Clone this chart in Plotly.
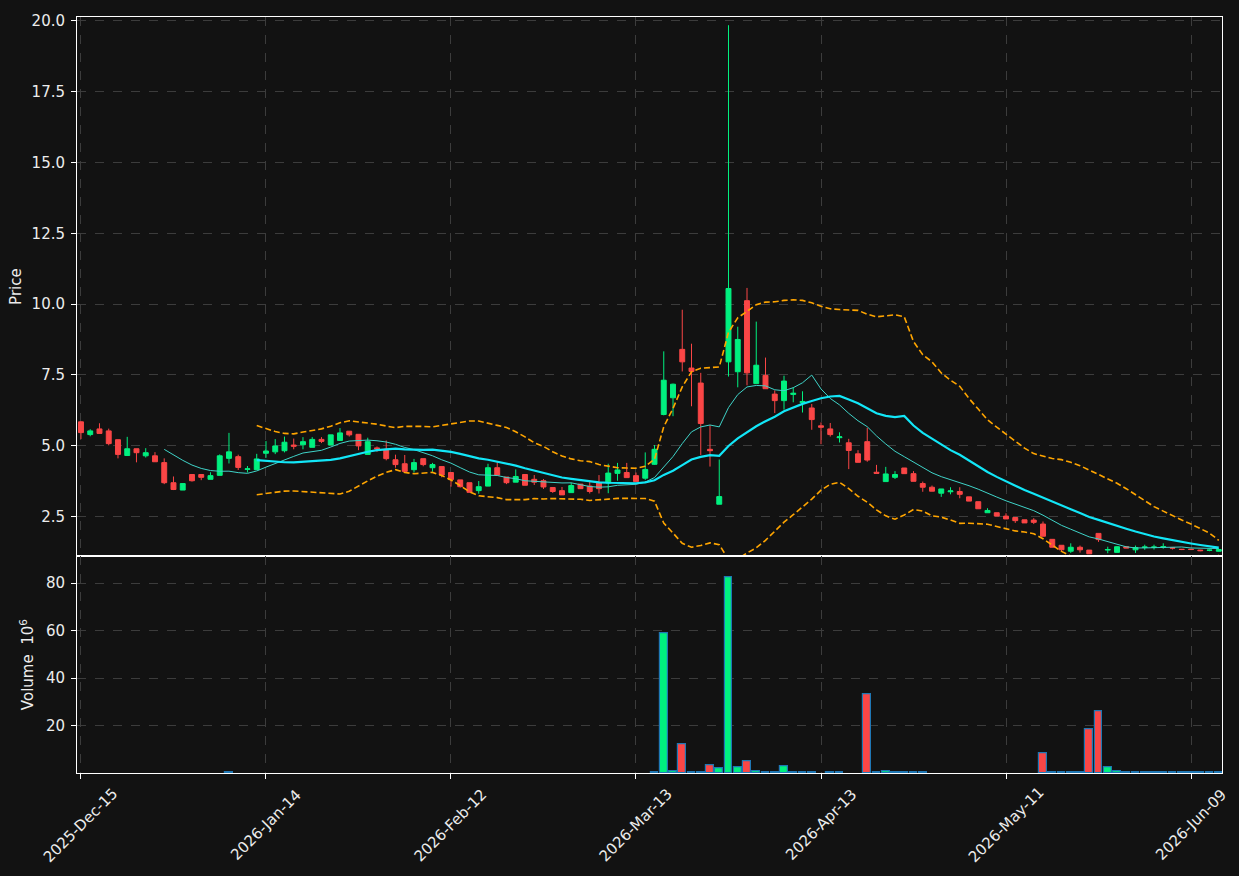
import pandas as pd
import plotly.graph_objects as go
from plotly.subplots import make_subplots

# ---------------- data ----------------
holidays = ["2025-12-25", "2026-01-01", "2026-01-19", "2026-02-16", "2026-04-03", "2026-05-25"]
dates = pd.bdate_range("2025-12-15", "2026-06-12", freq="C", holidays=holidays)
x_dates = [d.strftime("%Y-%m-%d") for d in dates]

opens = [
    5.84, 5.39, 5.59, 5.52, 5.21, 4.65, 4.89, 4.64, 4.64, 4.40,
    3.69, 3.43, 3.98, 3.98, 3.81, 3.95, 4.55, 4.61, 4.16, 4.15,
    4.73, 4.78, 4.82, 5.02, 5.03, 4.94, 5.22, 5.02, 5.18, 5.51,
    5.40, 4.69, 4.92, 4.87, 4.50, 4.36, 4.15, 4.54, 4.22, 4.26,
    4.05, 3.79, 3.69, 3.41, 3.57, 4.22, 3.89, 3.71, 3.98, 3.81,
    3.76, 3.52, 3.41, 3.34, 3.64, 3.57, 3.69, 3.68, 4.02, 4.05,
    3.94, 3.85, 4.34, 6.10, 6.69, 8.40, 7.74, 7.21, 4.87, 2.93,
    7.96, 7.61, 10.12, 7.19, 7.48, 6.82, 6.59, 6.81, 6.52, 6.33,
    5.70, 5.59, 5.28, 5.10, 4.71, 5.14, 4.06, 3.73, 3.88, 4.21,
    4.01, 3.66, 3.53, 3.32, 3.37, 3.38, 3.19, 3.02, 2.63, 2.63,
    2.51, 2.46, 2.38, 2.37, 2.23, 1.69, 1.48, 1.27, 1.41, 1.31,
    1.90, 1.31, 1.23, 1.43, 1.32, 1.40, 1.40, 1.41, 1.40, 1.34,
    1.34, 1.31, 1.30, 1.27,
]
highs = [
    5.86, 5.58, 5.79, 5.60, 5.21, 5.31, 4.89, 4.91, 4.77, 4.55,
    3.91, 3.66, 3.98, 3.98, 4.06, 4.69, 5.45, 4.68, 4.28, 4.71,
    5.16, 5.23, 5.32, 5.25, 5.30, 5.30, 5.30, 5.38, 5.62, 5.51,
    5.40, 5.28, 4.97, 5.18, 4.68, 4.67, 4.53, 4.54, 4.39, 4.26,
    4.05, 3.79, 3.69, 3.75, 4.36, 4.42, 3.89, 4.16, 3.98, 3.96,
    3.82, 3.52, 3.54, 3.69, 3.64, 3.76, 3.96, 4.36, 4.39, 4.39,
    4.05, 4.76, 5.02, 8.33, 7.19, 9.80, 8.60, 7.57, 5.72, 4.51,
    19.85, 9.20, 10.57, 9.38, 8.11, 6.95, 7.47, 7.06, 6.92, 6.47,
    5.82, 5.80, 5.47, 5.24, 4.84, 5.63, 4.32, 4.25, 4.10, 4.21,
    4.10, 3.73, 3.59, 3.47, 3.53, 3.53, 3.19, 3.02, 2.79, 2.63,
    2.61, 2.46, 2.38, 2.44, 2.32, 1.69, 1.48, 1.55, 1.47, 1.31,
    1.90, 1.43, 1.45, 1.45, 1.47, 1.50, 1.50, 1.55, 1.42, 1.35,
    1.35, 1.32, 1.33, 1.35,
]
lows = [
    5.23, 5.33, 5.43, 5.01, 4.55, 4.65, 4.41, 4.58, 4.43, 3.64,
    3.43, 3.43, 3.73, 3.78, 3.81, 3.95, 4.37, 4.14, 4.05, 4.15,
    4.57, 4.70, 4.76, 4.87, 4.87, 4.94, 5.09, 5.02, 5.18, 5.32,
    4.84, 4.69, 4.78, 4.48, 4.22, 4.09, 4.05, 4.27, 4.08, 3.88,
    3.55, 3.52, 3.35, 3.30, 3.57, 3.96, 3.64, 3.71, 3.60, 3.61,
    3.47, 3.33, 3.26, 3.34, 3.48, 3.31, 3.31, 3.32, 3.76, 3.87,
    3.73, 3.79, 4.32, 6.07, 6.04, 7.62, 6.39, 4.67, 4.26, 2.93,
    7.44, 7.06, 7.13, 7.19, 7.01, 6.15, 6.27, 6.53, 6.17, 5.56,
    5.05, 5.32, 5.11, 4.17, 4.41, 4.43, 4.02, 3.73, 3.82, 4.01,
    3.74, 3.37, 3.39, 3.19, 3.28, 3.14, 3.04, 2.77, 2.63, 2.51,
    2.41, 2.27, 2.27, 2.23, 1.80, 1.41, 1.27, 1.21, 1.22, 1.18,
    1.60, 1.20, 1.23, 1.38, 1.21, 1.32, 1.33, 1.36, 1.33, 1.31,
    1.31, 1.27, 1.27, 1.26,
]
closes = [
    5.46, 5.52, 5.43, 5.07, 4.69, 4.89, 4.75, 4.75, 4.43, 3.69,
    3.45, 3.66, 3.76, 3.88, 3.94, 4.64, 4.78, 4.23, 4.18, 4.53,
    4.81, 4.99, 5.12, 4.98, 5.14, 5.22, 5.15, 5.38, 5.45, 5.38,
    4.99, 5.14, 4.89, 4.54, 4.33, 4.09, 4.40, 4.33, 4.33, 3.96,
    3.80, 3.55, 3.35, 3.55, 4.22, 3.96, 3.69, 3.91, 3.60, 3.71,
    3.54, 3.38, 3.26, 3.59, 3.48, 3.38, 3.48, 4.03, 4.14, 3.87,
    3.73, 4.16, 4.87, 7.31, 7.17, 7.96, 7.62, 5.78, 4.82, 3.20,
    10.55, 8.75, 7.57, 7.84, 7.01, 6.59, 7.28, 6.85, 6.56, 5.92,
    5.65, 5.39, 5.31, 4.83, 4.41, 4.49, 4.02, 4.00, 3.98, 4.01,
    3.74, 3.53, 3.39, 3.47, 3.40, 3.28, 3.04, 2.77, 2.71, 2.51,
    2.41, 2.35, 2.27, 2.29, 1.80, 1.41, 1.32, 1.41, 1.32, 1.18,
    1.68, 1.33, 1.43, 1.38, 1.40, 1.42, 1.42, 1.43, 1.38, 1.33,
    1.33, 1.29, 1.31, 1.33,
]
# volume in millions
volume_m = [
    0, 0, 0, 0, 0, 0, 0, 0, 0, 0,
    0, 0, 0, 0, 0, 0, 0.40, 0, 0, 0,
    0, 0, 0, 0, 0, 0, 0, 0, 0, 0,
    0, 0, 0, 0, 0, 0, 0, 0, 0, 0,
    0, 0, 0, 0, 0, 0, 0, 0, 0, 0,
    0, 0, 0, 0, 0, 0, 0, 0, 0, 0,
    0, 0, 0.20, 58.9, 0.60, 12.0, 0.20, 0.20, 3.2, 1.9,
    82.5, 2.5, 4.8, 0.6, 0.2, 0.2, 2.8, 0.2, 0.2, 0.2,
    0, 0.2, 0.2, 0, 0, 33.0, 0.2, 0.6, 0.2, 0.2,
    0.2, 0.5, 0, 0, 0, 0, 0, 0, 0, 0,
    0, 0, 0, 0, 8.5, 0.5, 0.2, 0.2, 0.2, 18.3,
    25.9, 2.3, 0.6, 0.2, 0.2, 0.2, 0.2, 0.2, 0.2, 0.2,
    0.2, 0.5, 0.2, 0.2,
]

tick_dates = ["2025-12-15", "2026-01-14", "2026-02-12", "2026-03-13",
              "2026-04-13", "2026-05-11", "2026-06-09"]
tick_labels = ["2025-Dec-15", "2026-Jan-14", "2026-Feb-12", "2026-Mar-13",
               "2026-Apr-13", "2026-May-11", "2026-Jun-09"]
price_ticks = [2.5, 5.0, 7.5, 10.0, 12.5, 15.0, 17.5, 20.0]
volume_ticks = [20, 40, 60, 80]

# ---------------- indicators ----------------
close_s = pd.Series(closes)
mav10 = close_s.rolling(10).mean()
mav20 = close_s.rolling(20).mean()
std20 = close_s.rolling(20).std(ddof=0)
bb_up = mav20 + 2 * std20
bb_dn = mav20 - 2 * std20

# ---------------- style ----------------
BG = "#121212"
UP = "#00f07f"
DOWN = "#fa4646"
GRID = "#3c3c3c"
TXT = "#ececec"
FONT = "DejaVu Sans"
FS = 15

vol_colors = [UP if c >= o else DOWN for o, c in zip(opens, closes)]
vol_edge_w = [1.2 if v > 0 else 0 for v in volume_m]

fig = make_subplots(rows=2, cols=1, shared_xaxes=True, vertical_spacing=0,
                    row_heights=[0.7132, 0.2868])

fig.add_trace(go.Candlestick(
    x=x_dates, open=opens, high=highs, low=lows, close=closes,
    increasing=dict(line=dict(color=UP, width=1), fillcolor=UP),
    decreasing=dict(line=dict(color=DOWN, width=1), fillcolor=DOWN),
    whiskerwidth=0, showlegend=False, hoverinfo="skip"), row=1, col=1)

fig.add_trace(go.Scatter(x=x_dates, y=mav10, mode="lines",
                         line=dict(color="#3fd3c8", width=1), showlegend=False,
                         hoverinfo="skip"), row=1, col=1)
fig.add_trace(go.Scatter(x=x_dates, y=mav20, mode="lines",
                         line=dict(color="#12e6f7", width=2.2), showlegend=False,
                         hoverinfo="skip"), row=1, col=1)
for band in (bb_up, bb_dn):
    fig.add_trace(go.Scatter(x=x_dates, y=band, mode="lines",
                             line=dict(color="#ffa500", width=1.6, dash="6px,3px"),
                             showlegend=False, hoverinfo="skip"), row=1, col=1)

fig.add_trace(go.Bar(x=x_dates, y=volume_m, width=0.86,
                     marker=dict(color=vol_colors,
                                 line=dict(color="#1f77b4", width=vol_edge_w)),
                     showlegend=False, hoverinfo="skip"), row=2, col=1)

axis_common = dict(showline=True, linecolor="white", linewidth=1, mirror=True,
                   ticks="outside", ticklen=5, tickcolor="white",
                   showgrid=True, gridcolor=GRID, griddash="dash", gridwidth=1,
                   zeroline=False,
                   tickfont=dict(family=FONT, size=FS, color=TXT))

fig.update_xaxes(type="category", range=[-0.43, 123.35],
                 tickmode="array", tickvals=tick_dates, ticktext=tick_labels,
                 showticklabels=False, rangeslider=dict(visible=False), **axis_common)
fig.update_yaxes(ticklabelstandoff=3, **axis_common)
fig.update_yaxes(range=[1.095, 20.14], tickvals=price_ticks, tickformat=".1f",
                 title=dict(text="Price", standoff=6,
                            font=dict(family=FONT, size=FS, color=TXT)),
                 row=1, col=1)
fig.update_yaxes(range=[0.0, 91.3], tickvals=volume_ticks,
                 title=dict(text="Volume  10<sup>6</sup>", standoff=8,
                            font=dict(family=FONT, size=FS, color=TXT)),
                 row=2, col=1)

annotations = []
for d, lab in zip(tick_dates, tick_labels):
    annotations.append(dict(x=d, y=-0.069, xref="x2", yref="paper",
                            text=lab, textangle=-45, showarrow=False,
                            xanchor="center", yanchor="middle",
                            font=dict(family=FONT, size=FS, color=TXT)))

fig.update_layout(
    width=1239, height=876,
    margin=dict(l=77, r=17, t=13, b=103),
    paper_bgcolor=BG, plot_bgcolor=BG,
    font=dict(family=FONT, size=FS, color=TXT),
    showlegend=False, bargap=0, boxgap=0.24,
    annotations=annotations,
)

fig.write_html("out.html")
